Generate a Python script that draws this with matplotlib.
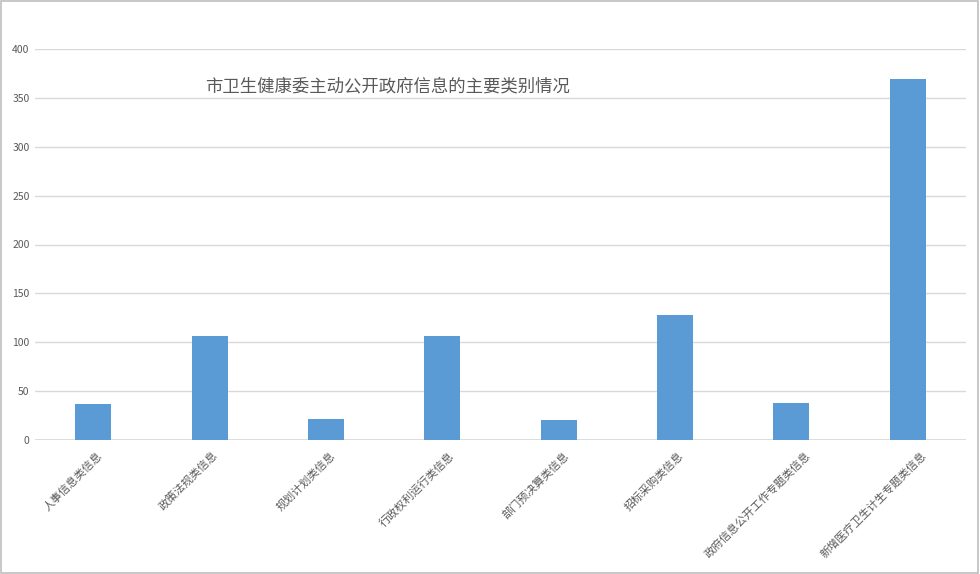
import matplotlib
matplotlib.use("Agg")
import matplotlib.pyplot as plt
import matplotlib.transforms as mtransforms
import numpy as np

plt.rcParams['font.family'] = ['Noto Sans CJK SC', 'DejaVu Sans']

# data
categories = ["人事信息类信息", "政策法规类信息", "规划计划类信息", "行政权利运行类信息",
              "部门预决算类信息", "招标采购类信息", "政府信息公开工作专题类信息", "新增医疗卫生计生专题类信息"]
counts = [37, 106, 21, 106, 20, 128, 38, 369]
title = "市卫生健康委主动公开政府信息的主要类别情况"
yticks = [0, 50, 100, 150, 200, 250, 300, 350, 400]

text_col = "#595959"
grid_col = "#D9D9D9"
bar_col = "#5B9BD5"

fig = plt.figure(figsize=(9.8, 5.74), dpi=100)
ax = fig.add_axes([35 / 980, 1 - 440 / 574, 931 / 980, 391 / 574])

x = np.arange(len(categories))
ax.bar(x, counts, width=0.31, color=bar_col, zorder=3)

ax.set_xlim(-0.5, len(categories) - 0.5)
ax.set_ylim(0, 400)
ax.set_yticks(yticks)
ax.yaxis.grid(True, color=grid_col, linewidth=1, zorder=0)
for s in ax.spines.values():
    s.set_visible(False)
ax.axhline(0, color=grid_col, linewidth=1.2, zorder=1)
ax.tick_params(axis='y', length=0, labelsize=7.5, labelcolor=text_col, pad=4)
ax.tick_params(axis='x', length=0, labelsize=8, labelcolor=text_col, pad=10)

ax.set_xticks(x)
ax.set_xticklabels(categories, rotation=45, ha='right', va='center', rotation_mode='anchor')
# longer labels sit a bit further right, as in the original
for lbl, name in zip(ax.get_xticklabels(), categories):
    dx = 7 + (len(name) - 7) * 1.7
    lbl.set_transform(lbl.get_transform() + mtransforms.ScaledTranslation(dx / 100, 0, fig.dpi_scale_trans))

fig.text(205 / 980, 1 - 86 / 574, title, fontsize=12.5, color=text_col, ha='left', va='center')

# light border around the chart
fig.patches.append(plt.Rectangle((0.001, 0.002), 0.997, 0.996, transform=fig.transFigure,
                                 fill=False, edgecolor="#BFBFBF", linewidth=1.2))

fig.savefig("out.png", dpi=100)
